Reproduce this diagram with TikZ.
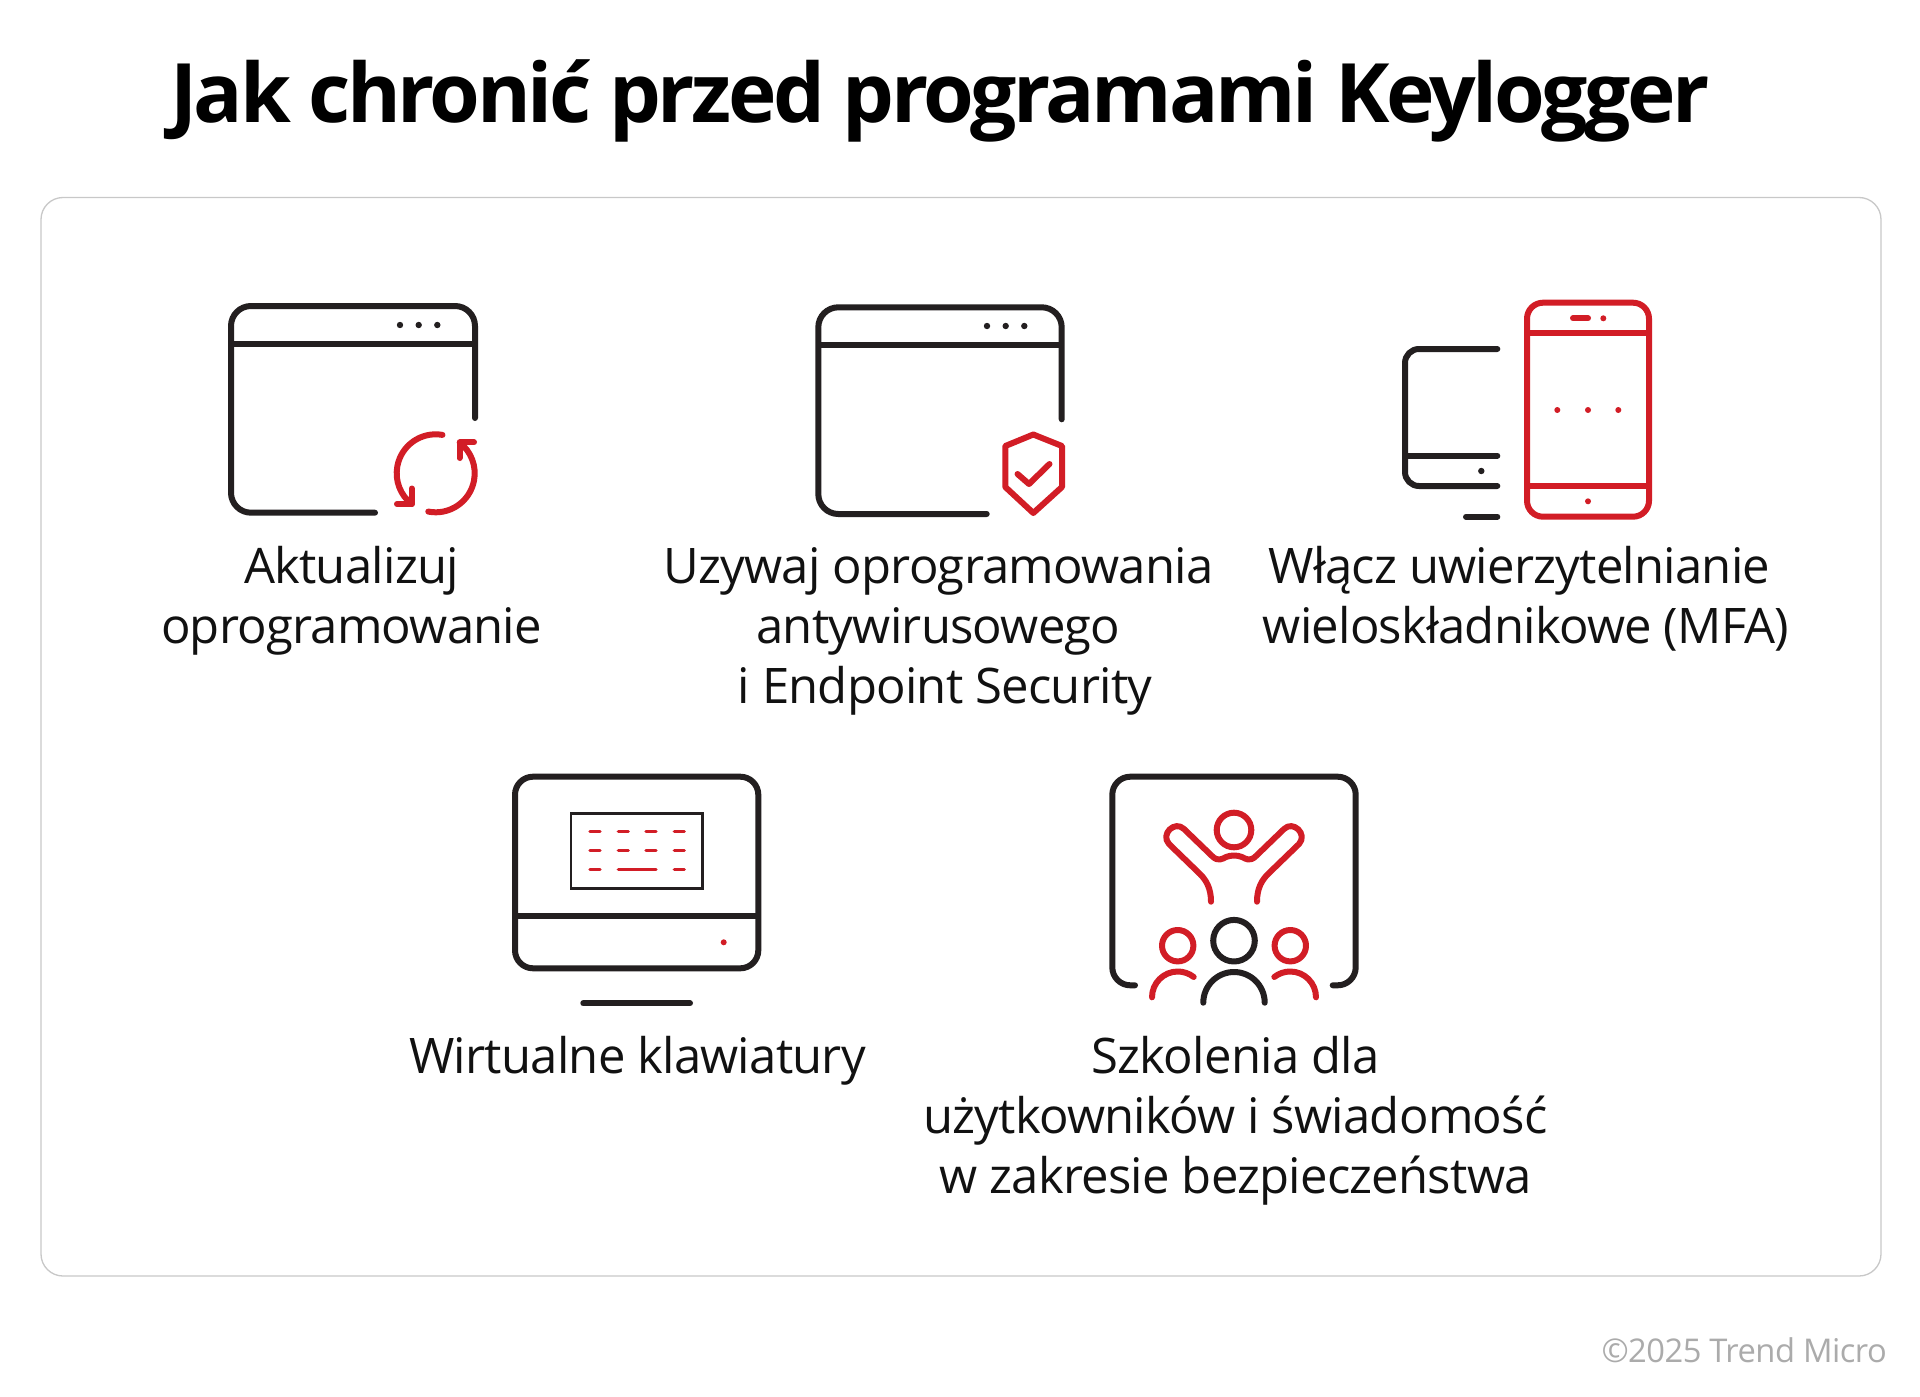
\documentclass[tikz,border=0pt]{standalone}
\usepackage{fontspec}
\setmainfont{Open Sans}
\newfontfamily\titlefont[LetterSpace=-4.2]{Open Sans}
\newfontfamily\bodyfont[LetterSpace=-1.55]{Open Sans}
\definecolor{tmred}{HTML}{D21D26}
\definecolor{tmblack}{HTML}{231F20}
\definecolor{tmtext}{HTML}{111111}
\definecolor{tmframe}{HTML}{C8C8C8}
\definecolor{tmgrey}{HTML}{ABABAB}
\tikzset{
  ink/.style={draw=tmblack,line width=6pt,line cap=round,line join=round},
  redink/.style={draw=tmred,line width=6pt,line cap=round,line join=round},
  thinred/.style={draw=tmred,line width=3.2pt,line cap=round},
  blackdot/.style={fill=tmblack,draw=none},
  reddot/.style={fill=tmred,draw=none},
  label/.style={anchor=base,align=center,inner sep=0pt,font=\bodyfont\fontsize{49}{60}\selectfont,text=tmtext}
}
\begin{document}
\begin{tikzpicture}[x=1pt,y=-1pt]
\useasboundingbox (0,0) rectangle (1920,1397);
\fill[white] (0,0) rectangle (1920,1397);
\node[anchor=base west,inner sep=0pt,font=\titlefont\fontsize{82}{90}\selectfont\bfseries,text=black] (title) at (170,122) {Jak chronić przed programami Keylogger};
\draw[tmframe,line width=1.3pt,rounded corners=22pt] (41,197.5) rectangle (1881,1276);

% window + refresh
\draw[ink,rounded corners=20pt] (475,418) -- (475,306) -- (231,306) -- (231,512.7) -- (375,512.7);
\draw[ink,line cap=butt] (231,344) -- (475,344);
\foreach \x in {400,418.7,437.3}\fill[blackdot] (\x,325) circle[radius=3.2pt];
\draw[redink] ({435.7+39*cos(80)},{473.3-39*sin(80)}) arc[start angle=80,end angle=232,radius=39pt];
\draw[redink] (397,504) -- (411.7,504) -- (411.7,488.5);
\draw[redink] ({435.7+39*cos(259)},{473.3-39*sin(259)}) arc[start angle=-101,end angle=52,radius=39pt];
\draw[redink] (474,442.3) -- (459.5,442.3) -- (459.5,458);

% window + shield
\draw[ink,rounded corners=20pt] (1061.7,419.3) -- (1061.7,307.3) -- (818.3,307.3) -- (818.3,514) -- (986.7,514);
\draw[ink,line cap=butt] (818.3,344.7) -- (1061.7,344.7);
\foreach \x in {987,1005.7,1024.3}\fill[blackdot] (\x,326) circle[radius=3.2pt];
\draw[redink] (1033.3,434.5) -- (1062,446) -- (1062,487) -- (1033.3,513) -- (1005.3,487) -- (1005.3,446) -- cycle;
\draw[redink] (1017.5,474) -- (1029,484) -- (1049.5,464);

% devices
\draw[ink,rounded corners=14pt] (1497.3,349) -- (1405,349) -- (1405,486) -- (1497.3,486);
\draw[ink] (1405,455.7) -- (1497.3,455.7);
\fill[blackdot] (1481.3,471) circle[radius=3.2pt];
\draw[ink] (1466,516.7) -- (1497.3,516.7);
\draw[redink,rounded corners=16pt] (1527,302.7) rectangle (1649,516.7);
\draw[redink,line cap=butt] (1527,333.3) -- (1649,333.3);
\draw[redink,line cap=butt] (1527,486) -- (1649,486);
\draw[redink] (1573,318.3) -- (1588,318.3);
\fill[reddot] (1603.3,318.3) circle[radius=3pt];
\foreach \x in {1557.3,1588,1618.3}\fill[reddot] (\x,410) circle[radius=3pt];
\fill[reddot] (1588,501.3) circle[radius=3pt];

% monitor + keyboard
\draw[ink,rounded corners=18pt] (515,776.7) rectangle (758.3,968.3);
\draw[ink,line cap=butt] (515,916.3) -- (758.3,916.3);
\draw[draw=tmblack,line width=2.8pt] (571,813.3) rectangle (702.7,888.3);
\foreach \x in {590,618.3,646,674.3}{
  \draw[thinred] (\x,831.7) -- ++(10,0);
  \draw[thinred] (\x,850.7) -- ++(10,0);
}
\draw[thinred] (590,869.3) -- ++(10,0);
\draw[thinred] (618.3,869.3) -- (656,869.3);
\draw[thinred] (674.3,869.3) -- ++(10,0);
\fill[reddot] (723.7,942.3) circle[radius=3pt];
\draw[ink] (583.3,1003.3) -- (690,1003.3);

% training
\draw[ink,rounded corners=18pt] (1135,985.3) -- (1112.3,985.3) -- (1112.3,776.7) -- (1355.7,776.7) -- (1355.7,985.3) -- (1332.7,985.3);
\draw[redink] (1234,830) circle[radius=17.3pt];
\draw[redink] (1211,901.7) .. controls (1211,888) and (1206,880) .. (1200,874)
  -- (1169,844) .. controls (1160,834) and (1175,820) .. (1184,829)
  -- (1212,856) .. controls (1218,862) and (1222,859) .. (1226,857)
  .. controls (1231,855) and (1237,855) .. (1242,857)
  .. controls (1246,859) and (1250,862) .. (1256,856)
  -- (1284,829) .. controls (1293,820) and (1308,834) .. (1299,844)
  -- (1268,874) .. controls (1262,880) and (1257,888) .. (1257,901.7);
\draw[ink] (1234,940.7) circle[radius=20.8pt];
\draw[ink] (1203.3,1002.7) arc[start angle=180,end angle=0,radius=30.7pt];
\draw[redink] (1177.7,945.7) circle[radius=15.7pt];
\draw[redink] (1290.3,945.7) circle[radius=15.7pt];
\draw[redink] (1152,997.3) arc[start angle=180,end angle=52,radius=25.8pt];
\draw[redink] (1316,997.3) arc[start angle=0,end angle=128,radius=25.8pt];

% labels
\node[label] (a) at (351.5,643.5) {Aktualizuj\\oprogramowanie};
\node[label] (b) at (945,703.5) {Uzywaj oprogramowania\rule{13pt}{0pt}\\antywirusowego\rule{13pt}{0pt}\\i Endpoint Security};
\node[label] (c) at (1526,643.5) {Włącz uwierzytelnianie\rule{13pt}{0pt}\\wieloskładnikowe (MFA)};
\node[label] (d) at (637.5,1073.5) {Wirtualne klawiatury};
\node[label] (e) at (1235.5,1193.5) {Szkolenia dla\\użytkowników i świadomość\\w zakresie bezpieczeństwa};
\node[anchor=base east,inner sep=0pt,font=\bodyfont\fontsize{32.7}{40}\selectfont,text=tmgrey] (f) at (1887,1362) {©2025 Trend Micro};
\end{tikzpicture}
\end{document}
